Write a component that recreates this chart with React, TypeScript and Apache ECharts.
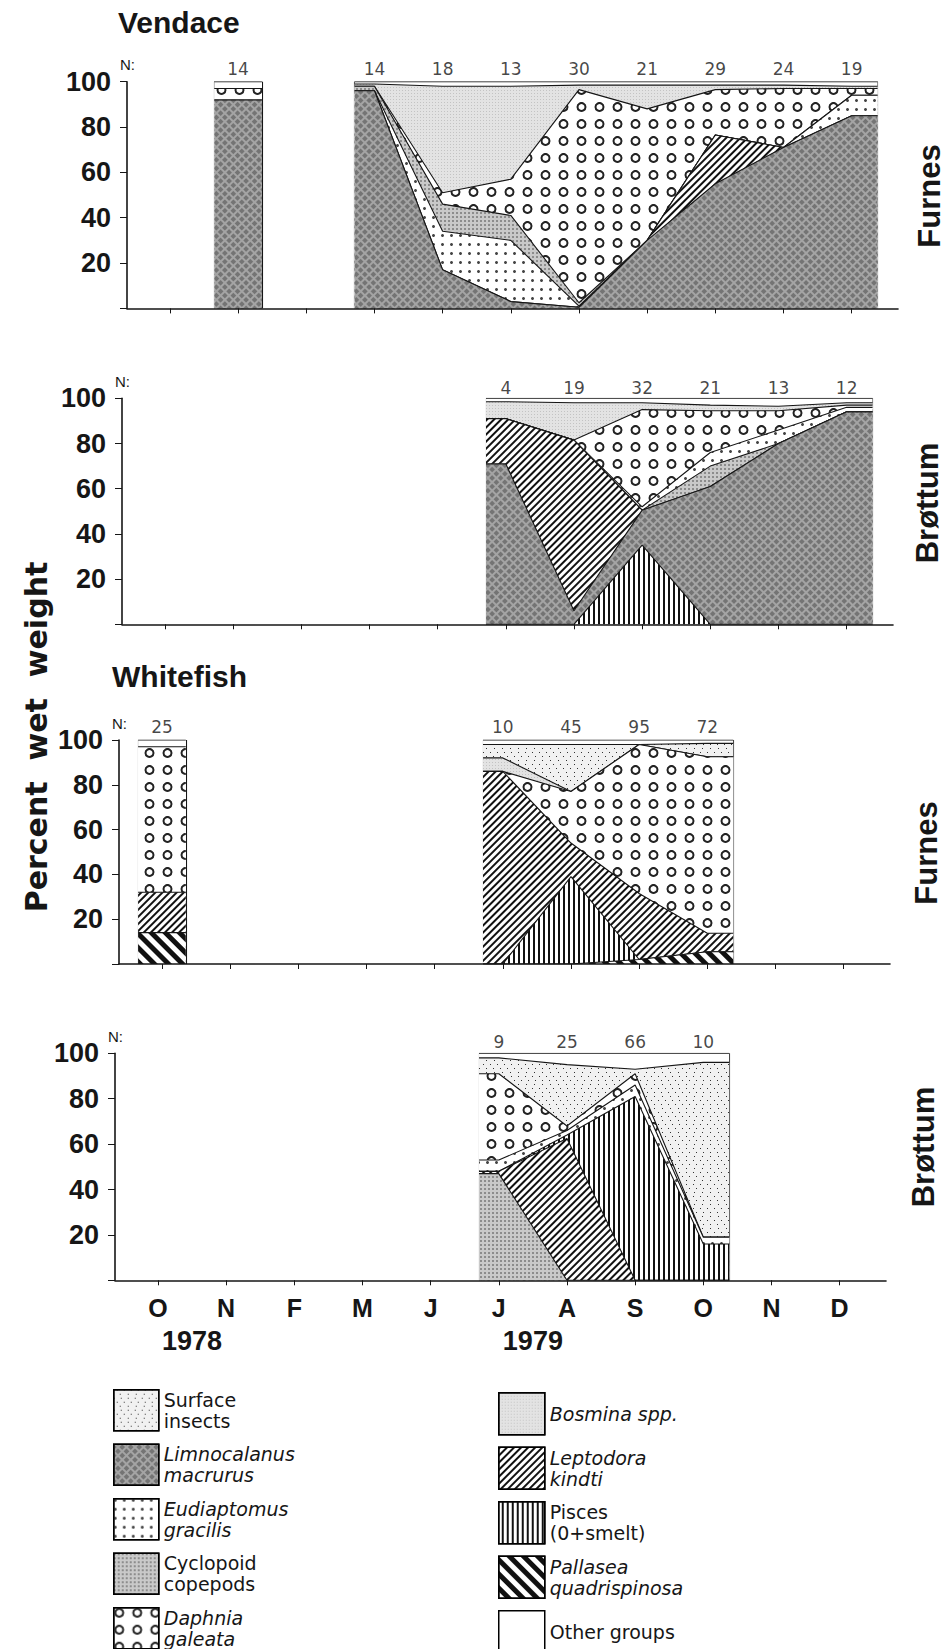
import React, { useEffect, useRef } from 'react';
import * as echarts from 'echarts';

// ---------------- axis labels ----------------
const MONTH_TICKS = [0, 1, 2, 3, 4, 5, 6, 7, 8, 9, 10];
const MONTH_LABELS = ['O', 'N', 'F', 'M', 'J', 'J', 'A', 'S', 'O', 'N', 'D'];
const YEAR_LABELS = ['1978', '1979'];
const YEAR_AT = [0.5, 5.5];

// ---------------- categories ----------------
const SURF = 'Surface insects';
const LIMNO = 'Limnocalanus macrurus';
const EUDI = 'Eudiaptomus gracilis';
const CYCL = 'Cyclopoid copepods';
const DAPH = 'Daphnia galeata';
const BOSM = 'Bosmina spp.';
const LEPTO = 'Leptodora kindti';
const PISC = 'Pisces (0+smelt)';
const PALL = 'Pallasea quadrispinosa';
const OTHER = 'Other groups';
const LEGEND_LEFT = [SURF, LIMNO, EUDI, CYCL, DAPH];
const LEGEND_RIGHT = [BOSM, LEPTO, PISC, PALL, OTHER];

// ---------------- Vendace, Furnes ----------------
const VF_BAR_MONTH = [1];
const VF_BAR_N = [14];
const VF_BAR_LIMNO = [92];
const VF_BAR_DAPH = [5];
const VF_BAR_OTHER = [3];

const VF_MONTHS = [3, 4, 5, 6, 7, 8, 9, 10];
const VF_N = [14, 18, 13, 30, 21, 29, 24, 19];
const VF_LIMNO = [96, 17, 3, 0.5, 30, 55, 71, 85];
const VF_LEPTO = [0, 0, 0, 0, 0, 21.5, 0, 0];
const VF_EUDI = [0, 17, 27, 0.5, 0, 0, 0, 9];
const VF_CYCL = [2, 12, 11, 1.5, 0, 0, 0, 0];
const VF_DAPH = [0, 5, 16, 94, 58, 20, 26, 3];
const VF_BOSM = [1, 47, 41, 2, 10.5, 2, 1.5, 1];
const VF_OTHER = [1, 2, 2, 1.5, 1.5, 1.5, 1.5, 2];

// ---------------- Vendace, Brøttum ----------------
const VB_MONTHS = [5, 6, 7, 8, 9, 10];
const VB_N = [4, 19, 32, 21, 13, 12];
const VB_PISC = [0, 0, 35, 0, 0, 0];
const VB_LIMNO = [71, 6, 15.5, 61, 80, 94];
const VB_LEPTO = [20, 75.5, 0, 0, 0, 0];
const VB_CYCL = [0, 0, 0, 9, 0, 0];
const VB_EUDI = [0, 0, 1.5, 6, 6, 2];
const VB_DAPH = [0, 0, 43, 18.5, 8.5, 1];
const VB_BOSM = [7.5, 16.5, 3, 2.5, 2, 1];
const VB_OTHER = [1.5, 2, 2, 3, 3.5, 2];

// ---------------- Whitefish, Furnes ----------------
const WF_BAR_MONTH = [0];
const WF_BAR_N = [25];
const WF_BAR_PALL = [14];
const WF_BAR_LEPTO = [18];
const WF_BAR_DAPH = [65];
const WF_BAR_OTHER = [3];

const WF_MONTHS = [5, 6, 7, 8];
const WF_N = [10, 45, 95, 72];
const WF_PALL = [0, 0, 2, 5.5];
const WF_PISC = [0, 39, 0, 0];
const WF_LEPTO = [86, 15, 29.5, 8.2];
const WF_DAPH = [0, 23, 66.5, 78.8];
const WF_BOSM = [6, 0, 0, 0];
const WF_SURF = [6, 21, 0, 6];
const WF_OTHER = [2, 2, 2, 1.5];

// ---------------- Whitefish, Brøttum ----------------
const WB_MONTHS = [5, 6, 7, 8];
const WB_N = [9, 25, 66, 10];
const WB_CYCL = [47, 0, 0, 0];
const WB_LEPTO = [1, 62.5, 0, 0];
const WB_PISC = [0, 1.5, 81, 16];
const WB_EUDI = [5, 2, 5, 3];
const WB_DAPH = [38, 2, 5, 0];
const WB_SURF = [7, 27, 2, 77];
const WB_OTHER = [2, 5, 7, 4];

// ---------------- styles ----------------
const INK = '#161616';
const FILL: Record<string, string> = {
  [SURF]: '#f1f1f1',
  [LIMNO]: '#a4a4a4',
  [EUDI]: '#ffffff',
  [CYCL]: '#c9c9c9',
  [DAPH]: '#ffffff',
  [BOSM]: '#e3e3e3',
  [LEPTO]: '#ffffff',
  [PISC]: '#ffffff',
  [PALL]: '#ffffff',
  [OTHER]: '#ffffff',
};
const DECAL: Record<string, any> = {
  [LIMNO]: { symbol: 'rect', color: 'rgba(50,50,50,0.42)', dashArrayX: [4, 1.5], dashArrayY: [4, 1.5], rotation: Math.PI / 4 },
  [LEPTO]: { symbol: 'rect', color: '#111', dashArrayX: [1, 0], dashArrayY: [1.6, 2.2], rotation: -Math.PI / 4 },
  [PISC]: { symbol: 'rect', color: '#111', dashArrayX: [1, 0], dashArrayY: [1.3, 2.2], rotation: Math.PI / 2 },
  [PALL]: { symbol: 'rect', color: '#111', dashArrayX: [1, 0], dashArrayY: [4.5, 5], rotation: Math.PI / 4 },
  [BOSM]: { symbol: 'rect', color: 'rgba(0,0,0,0.14)', dashArrayX: [1, 1.5], dashArrayY: [1, 1.5] },
  [CYCL]: { symbol: 'rect', color: 'rgba(0,0,0,0.3)', dashArrayX: [1.2, 1.2], dashArrayY: [1.2, 1.2] },
  [SURF]: { symbol: 'rect', color: '#333', dashArrayX: [[1, 6], [0, 3, 1, 3], [0, 5.5, 1, 0.5]], dashArrayY: [1, 2.5] },
  [EUDI]: { symbol: 'circle', color: '#444', dashArrayX: [2.5, 6], dashArrayY: [2.5, 6] },
  [DAPH]: { symbol: 'emptyCircle', color: '#222', symbolSize: 0.8, dashArrayX: [11, 7], dashArrayY: [10, 7] },
};
const LEGEND_TEXT: Record<string, [string, string[]]> = {
  [SURF]: ['n', ['Surface', 'insects']],
  [LIMNO]: ['i', ['Limnocalanus', 'macrurus']],
  [EUDI]: ['i', ['Eudiaptomus', 'gracilis']],
  [CYCL]: ['n', ['Cyclopoid', 'copepods']],
  [DAPH]: ['i', ['Daphnia', 'galeata']],
  [BOSM]: ['i', ['Bosmina spp.']],
  [LEPTO]: ['i', ['Leptodora', 'kindti']],
  [PISC]: ['n', ['Pisces', '(0+smelt)']],
  [PALL]: ['i', ['Pallasea', 'quadrispinosa']],
  [OTHER]: ['n', ['Other groups']],
};

// ---------------- layout ----------------
const XMIN = -0.63;
const XMAX = 10.68;
const GRID_W = 771;
const GRIDS = [
  { left: 127, top: 81.7, height: 226.7 },
  { left: 122, top: 398.3, height: 226 },
  { left: 119, top: 740, height: 224 },
  { left: 115, top: 1053.3, height: 227 },
];
const N_DIST = [4, 1, 4, 2];
const PRE = 0.29;
const POST = 0.38;
const BAR_HALF = 0.35;
const SIDE_LABELS = [
  { text: 'Furnes', x: 929, y: 196 },
  { text: 'Brøttum', x: 927, y: 503 },
  { text: 'Furnes', x: 926, y: 853 },
  { text: 'Brøttum', x: 923, y: 1147 },
];
const FONT = '"Liberation Sans", Arial, sans-serif';
const LFONT = '"DejaVu Sans", sans-serif';

type Layer = [string, number[]];

// Each layer is drawn as its cumulative top line filled down to zero;
// lower layers are painted over upper ones, which yields the stacked bands.
function layerSeries(panel: number, months: number[], layers: Layer[], pre: number, post: number) {
  const xs = [months[0] - pre, ...months, months[months.length - 1] + post];
  let run = months.map(() => 0);
  const tops: number[][] = layers.map(([, vals]) => {
    run = run.map((r, i) => r + vals[i]);
    return run;
  });
  const L = layers.length;
  const out = layers.map(([cat], k) => {
    const c = tops[k];
    const ys = [c[0], ...c, c[c.length - 1]];
    const s: any = {
      type: 'line',
      name: cat,
      xAxisIndex: panel,
      yAxisIndex: panel,
      data: xs.map((x, i) => [x, ys[i]]),
      symbol: 'none',
      showSymbol: false,
      silent: true,
      itemStyle: { color: INK, decal: DECAL[cat] },
      lineStyle: { color: INK, width: 1.1, decal: DECAL[cat] },
      areaStyle: { color: FILL[cat], opacity: 1, origin: 'start' },
      z: 10 + (L - k),
    };
    if (k === L - 1) {
      s.markLine = {
        silent: true,
        symbol: ['none', 'none'],
        label: { show: false },
        lineStyle: { color: INK, width: 1.1, type: 'solid' },
        data: [{ xAxis: xs[0] }, { xAxis: xs[xs.length - 1] }],
      };
    }
    return s;
  });
  return out.reverse();
}

function nSeries(panel: number, months: number[], ns: number[]) {
  return {
    type: 'scatter',
    xAxisIndex: panel,
    yAxisIndex: panel,
    data: months.map((m, i) => [m, 100, ns[i]]),
    symbol: 'circle',
    symbolSize: 1,
    itemStyle: { color: 'rgba(0,0,0,0)' },
    silent: true,
    clip: false,
    z: 50,
    label: {
      show: true,
      position: 'top',
      distance: N_DIST[panel],
      formatter: (p: any) => String(p.value[2]),
      fontFamily: LFONT,
      fontSize: 17,
      color: INK,
    },
  };
}

function buildOption() {
  const series: any[] = [
    ...layerSeries(0, VF_BAR_MONTH, [[LIMNO, VF_BAR_LIMNO], [DAPH, VF_BAR_DAPH], [OTHER, VF_BAR_OTHER]], BAR_HALF, BAR_HALF),
    ...layerSeries(0, VF_MONTHS, [
      [LIMNO, VF_LIMNO], [LEPTO, VF_LEPTO], [EUDI, VF_EUDI], [CYCL, VF_CYCL],
      [DAPH, VF_DAPH], [BOSM, VF_BOSM], [OTHER, VF_OTHER],
    ], PRE, POST),
    nSeries(0, [...VF_BAR_MONTH, ...VF_MONTHS], [...VF_BAR_N, ...VF_N]),

    ...layerSeries(1, VB_MONTHS, [
      [PISC, VB_PISC], [LIMNO, VB_LIMNO], [LEPTO, VB_LEPTO], [CYCL, VB_CYCL],
      [EUDI, VB_EUDI], [DAPH, VB_DAPH], [BOSM, VB_BOSM], [OTHER, VB_OTHER],
    ], PRE, POST),
    nSeries(1, VB_MONTHS, VB_N),

    ...layerSeries(2, WF_BAR_MONTH, [[PALL, WF_BAR_PALL], [LEPTO, WF_BAR_LEPTO], [DAPH, WF_BAR_DAPH], [OTHER, WF_BAR_OTHER]], BAR_HALF, BAR_HALF),
    ...layerSeries(2, WF_MONTHS, [
      [PALL, WF_PALL], [PISC, WF_PISC], [LEPTO, WF_LEPTO], [DAPH, WF_DAPH],
      [BOSM, WF_BOSM], [SURF, WF_SURF], [OTHER, WF_OTHER],
    ], PRE, POST),
    nSeries(2, [...WF_BAR_MONTH, ...WF_MONTHS], [...WF_BAR_N, ...WF_N]),

    ...layerSeries(3, WB_MONTHS, [
      [CYCL, WB_CYCL], [LEPTO, WB_LEPTO], [PISC, WB_PISC], [EUDI, WB_EUDI],
      [DAPH, WB_DAPH], [SURF, WB_SURF], [OTHER, WB_OTHER],
    ], PRE, POST),
    nSeries(3, WB_MONTHS, WB_N),
  ];

  const unit = GRID_W / (XMAX - XMIN);
  const xPix = (p: number, v: number) => GRIDS[p].left + (v - XMIN) * unit;

  const graphic: any[] = [
    { type: 'text', x: 118, y: 22.5, style: { text: 'Vendace', font: `bold 30px ${FONT}`, fill: INK, align: 'left', verticalAlign: 'middle' } },
    { type: 'text', x: 112, y: 676, style: { text: 'Whitefish', font: `bold 30px ${FONT}`, fill: INK, align: 'left', verticalAlign: 'middle' } },
    { type: 'text', x: 36, y: 737, rotation: Math.PI / 2, style: { text: 'Percent  wet  weight', font: `bold 30px ${LFONT}`, fill: INK, align: 'center', verticalAlign: 'middle' } },
    ...SIDE_LABELS.map((s) => ({ type: 'text', x: s.x, y: s.y, rotation: Math.PI / 2, style: { text: s.text, font: `bold 31px ${FONT}`, fill: INK, align: 'center', verticalAlign: 'middle' } })),
    ...GRIDS.map((g) => ({ type: 'text', x: g.left - 7, y: g.top - 17, style: { text: 'N:', font: `15px ${FONT}`, fill: INK, align: 'left', verticalAlign: 'middle' } })),
    ...YEAR_LABELS.map((t, i) => ({ type: 'text', x: xPix(3, YEAR_AT[i]), y: 1341, style: { text: t, font: `bold 27px ${FONT}`, fill: INK, align: 'center', verticalAlign: 'middle' } })),
  ];

  const legendCommon = {
    orient: 'vertical',
    icon: 'rect',
    selectedMode: false,
    padding: 0,
    height: 320,
    formatter: (name: string) => {
      const [st, lines] = LEGEND_TEXT[name];
      return lines.map((l) => `{${st}|${l}}`).join('\n');
    },
    textStyle: {
      color: INK,
      fontFamily: LFONT,
      fontSize: 19,
      lineHeight: 21,
      rich: {
        i: { fontStyle: 'italic', fontFamily: LFONT, fontSize: 19, lineHeight: 21, color: INK },
        n: { fontStyle: 'normal', fontFamily: LFONT, fontSize: 19, lineHeight: 21, color: INK },
      },
    },
  };
  const legendData = (names: string[]) =>
    names.map((n) => ({ name: n, itemStyle: { color: FILL[n], borderColor: '#000', borderWidth: 1.5 } }));

  return {
    animation: false,
    backgroundColor: '#ffffff',
    grid: GRIDS.map((g) => ({ left: g.left, top: g.top, width: GRID_W, height: g.height, containLabel: false })),
    xAxis: GRIDS.map((g, p) => ({
      type: 'value',
      gridIndex: p,
      min: XMIN,
      max: XMAX,
      z: 60,
      axisLine: { show: true, onZero: false, lineStyle: { color: INK, width: 1.6 } },
      axisTick: { show: true, customValues: MONTH_TICKS, length: 5, inside: false, lineStyle: { color: INK, width: 1 } },
      axisLabel:
        p === 3
          ? {
              show: true,
              customValues: MONTH_TICKS,
              formatter: (v: number) => MONTH_LABELS[Math.round(v)] ?? '',
              margin: 15,
              fontFamily: FONT,
              fontWeight: 'bold',
              fontSize: 25,
              color: INK,
            }
          : { show: false },
      splitLine: { show: false },
    })),
    yAxis: GRIDS.map((g, p) => ({
      type: 'value',
      gridIndex: p,
      min: 0,
      max: 100,
      interval: 20,
      z: 60,
      axisLine: { show: true, onZero: false, lineStyle: { color: INK, width: 1.6 } },
      axisTick: { show: true, length: 7, inside: false, lineStyle: { color: INK, width: 1 } },
      axisLabel: {
        show: true,
        margin: 16,
        formatter: (v: number) => (v === 0 ? '' : String(v)),
        fontFamily: FONT,
        fontWeight: 'bold',
        fontSize: 27,
        color: INK,
      },
      splitLine: { show: false },
    })),
    legend: [
      { ...legendCommon, left: 113, top: 1389, itemWidth: 45, itemHeight: 41, itemGap: 12, data: legendData(LEGEND_LEFT) },
      { ...legendCommon, left: 498, top: 1392, itemWidth: 46, itemHeight: 42, itemGap: 11, data: legendData(LEGEND_RIGHT) },
    ],
    graphic,
    series,
  };
}

export default function App() {
  const ref = useRef<HTMLDivElement>(null);
  useEffect(() => {
    if (!ref.current) return;
    const chart = echarts.init(ref.current, null, { renderer: 'svg' });
    chart.setOption(buildOption() as any);
    return () => chart.dispose();
  }, []);
  return <div ref={ref} style={{ position: 'absolute', left: 0, top: 0, width: 945, height: 1649 }} />;
}
